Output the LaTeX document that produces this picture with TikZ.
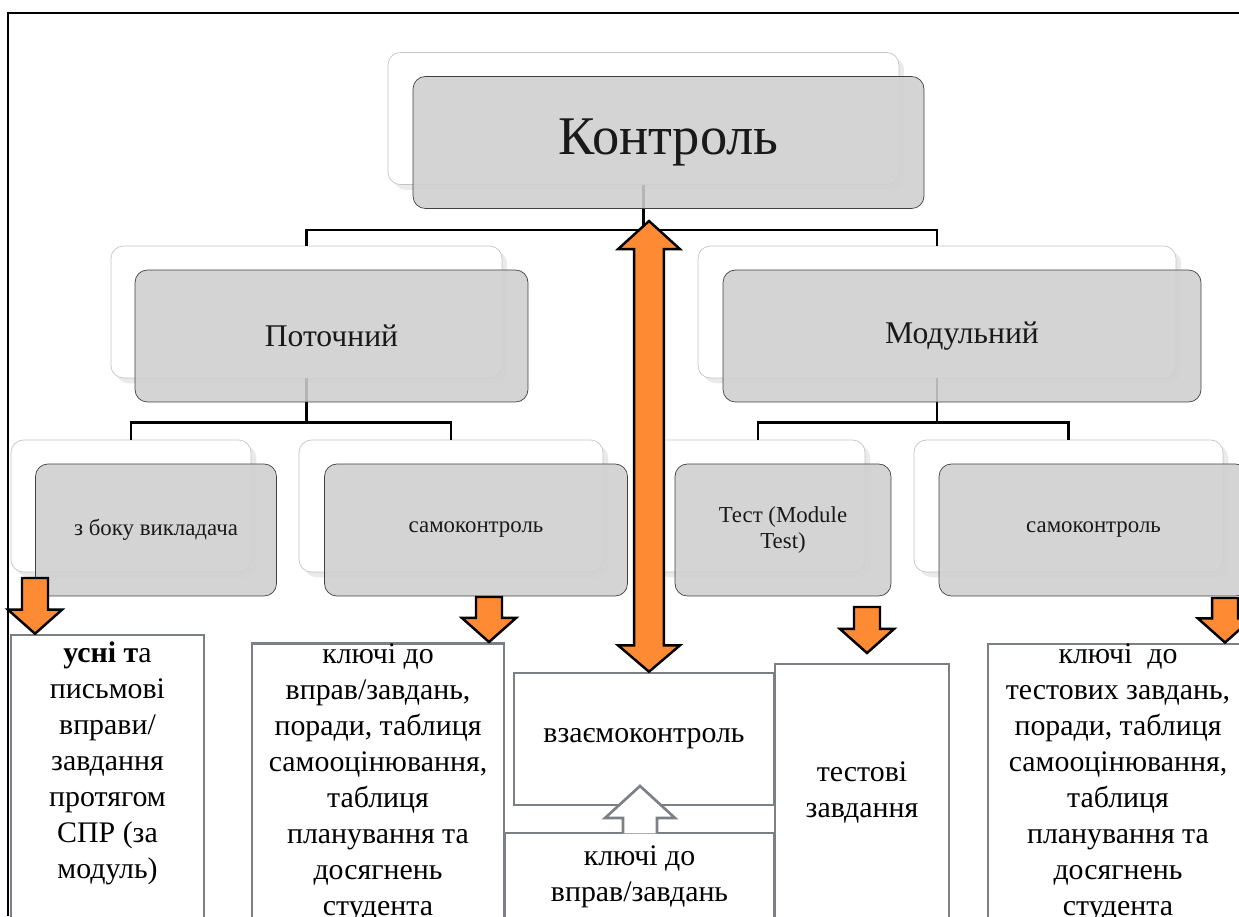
\documentclass[tikz,border=0pt]{standalone}
\usepackage{fontspec}
\setmainfont{Liberation Serif}
\usetikzlibrary{calc,positioning,shadows}

\definecolor{boxgray}{RGB}{207,207,207}
\definecolor{backline}{RGB}{196,196,196}
\definecolor{lowline}{RGB}{124,127,133}
\definecolor{orarr}{RGB}{255,138,52}

\begin{document}
\begin{tikzpicture}[x=0.02cm,y=-0.02cm]
  \tikzset{
    back/.style={draw=backline, fill=white, rounded corners=7pt, minimum height=2.64cm,
      drop shadow={opacity=0.16, shadow xshift=3pt, shadow yshift=-3pt}},
    front/.style={draw=black!75, fill=boxgray, fill opacity=0.88, text opacity=1, text=black!90,
      rounded corners=7pt, minimum height=2.64cm, align=center},
    low/.style={draw=lowline, line width=1.5pt, fill=white, align=center, inner sep=0pt,
      font=\fontsize{17}{20.5}\selectfont},
    tree/.style={draw, line width=1.5pt},
    blockarr/.style={draw, line width=1.4pt, fill=orarr, to path={
      let \p1=(\tikztostart), \p2=(\tikztotarget) in
      (\x1-7.4pt,\y1) -- (\x1+7.4pt,\y1) -- (\x1+7.4pt,\y2+13.7pt) -- (\x1+15.4pt,\y2+13.7pt)
      -- (\x1,\y2) -- (\x1-15.4pt,\y2+13.7pt) -- (\x1-7.4pt,\y2+13.7pt) -- cycle}},
    dblarr/.style={draw, line width=1.4pt, fill=orarr, to path={
      let \p1=(\tikztostart), \p2=(\tikztotarget) in
      (\x1,\y1) -- (\x1+17.6pt,\y1-16pt) -- (\x1+8.5pt,\y1-16pt) -- (\x1+8.5pt,\y2+15pt)
      -- (\x1+17.6pt,\y2+15pt) -- (\x1,\y2) -- (\x1-17.6pt,\y2+15pt) -- (\x1-8.5pt,\y2+15pt)
      -- (\x1-8.5pt,\y1-16pt) -- (\x1-17.6pt,\y1-16pt) -- cycle}},
    hollowarr/.style={draw=lowline, line width=1.5pt, fill=white, to path={
      let \p1=(\tikztostart), \p2=(\tikztotarget) in
      (\x1-9.7pt,\y1-1pt) -- (\x1-9.7pt,\y2-18.2pt) -- (\x1-19.9pt,\y2-18.2pt) -- (\x1,\y2)
      -- (\x1+19.9pt,\y2-18.2pt) -- (\x1+9.7pt,\y2-18.2pt) -- (\x1+9.7pt,\y1-1pt)}},
  }
  \useasboundingbox (0,0) rectangle (1239,916);
  \clip (0,0) rectangle (1239,916);
  \fill[white] (0,0) rectangle (1239,916);
  \draw[line width=1.5pt] (8,916) -- (8,13) -- (1239,13);

  \node[back, minimum width=10.22cm] (kback) at (643.5,118.5) {};
  \node[back, minimum width=7.82cm] (pback) at (306.5,312) {};
  \node[back, minimum width=9.56cm] (mback) at (937,312) {};
  \node[back, minimum width=4.8cm] (zback) at (131,506) {};
  \node[back, minimum width=6.08cm] (sback) at (451,506) {};
  \node[back, minimum width=4.28cm] (tback) at (758,506) {};
  \node[back, minimum width=6.18cm] (s2back) at (1068.5,506) {};

  \path[tree] (kback.south) -- ++(0,45) -| (pback.north);
  \path[tree] (kback.south) -- ++(0,45) -| (mback.north);
  \path[tree] (pback.south) -- ++(0,44) -| (zback.north);
  \path[tree] (pback.south) -- ++(0,44) -| (sback.north);
  \path[tree] (mback.south) -- ++(0,44) -| (tback.north);
  \path[tree] (mback.south) -- ++(0,44) -| (s2back.north);

  \node[front, minimum width=10.22cm, font=\fontsize{31}{36}\selectfont] (kontrol) at ([shift={(25,24)}]kback.center) {Контроль};
  \node[front, minimum width=7.86cm, font=\fontsize{18}{22}\selectfont] (potoch) at ([shift={(25,24)}]pback.center) {Поточний};
  \node[front, minimum width=9.56cm, font=\fontsize{18}{22}\selectfont] (modul) at ([shift={(25,24)}]mback.center) {Модульний};
  \node[front, minimum width=4.82cm, font=\fontsize{13}{15}\selectfont] (zboku) at ([shift={(25,24)}]zback.center) {з боку викладача};
  \node[front, minimum width=6.06cm, font=\fontsize{13}{15}\selectfont] (samo) at ([shift={(25,24)}]sback.center) {самоконтроль};
  \node[front, minimum width=4.32cm, font=\fontsize{13}{14.5}\selectfont] (test) at ([shift={(25,24)}]tback.center) {Тест (Module\\Test)};
  \node[front, minimum width=6.18cm, font=\fontsize{13}{15}\selectfont] (samo2) at ([shift={(25,24)}]s2back.center) {самоконтроль};

  \node[low, minimum width=3.86cm, minimum height=5.72cm] (usni) at (107.5,778) {\textbf{усні т}а\\письмові\\вправи/\\завдання\\протягом\\СПР (за\\модуль)\\\mbox{}};
  \node[low, minimum width=5.04cm, minimum height=5.54cm] (kl1) at (378,782.5) {ключі до\\вправ/завдань,\\поради, таблиця\\самооцінювання,\\таблиця\\планування та\\досягнень\\студента};
  \node[low, minimum width=5.38cm, minimum height=1.76cm] (kv) at (639.5,877) {ключі до\\вправ/завдань};
  \node[low, minimum width=5.2cm, minimum height=2.64cm] (vz) at (644,739) {взаємоконтроль};
  \node[low, minimum width=3.48cm, minimum height=5.14cm] (tz) at (862,792.5) {тестові\\завдання};
  \node[low, minimum width=5.2cm, minimum height=5.52cm] (kl2) at (1118,783) {ключі~~до\\тестових завдань,\\поради, таблиця\\самооцінювання,\\таблиця\\планування та\\досягнень\\студента};

  \coordinate (kvtip) at (640,786);
  \coordinate (a1s) at (35,578);
  \coordinate (a2s) at (489,597);
  \coordinate (a4s) at (867,607);
  \coordinate (a4t) at (867,653);
  \coordinate (a5s) at (1225,598);
  \coordinate (dtop) at (649,221);

  \draw[hollowarr] (kv.north -| kvtip) to (kvtip);
  \draw[blockarr] (a1s) to (usni.north -| a1s);
  \draw[blockarr] (a2s) to (kl1.north -| a2s);
  \draw[blockarr] (a4s) to (a4t);
  \draw[blockarr] (a5s) to (kl2.north -| a5s);
  \draw[dblarr] (dtop) to (vz.north -| dtop);
\end{tikzpicture}
\end{document}
